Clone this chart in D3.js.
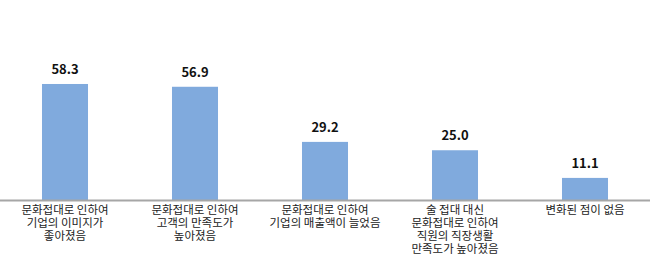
<!DOCTYPE html>
<html>
<head>
<meta charset="utf-8">
<script src="https://cdn.jsdelivr.net/npm/d3@7"></script>
<style>
  html, body { margin: 0; padding: 0; background: #fff; }
  svg { display: block; }
</style>
</head>
<body>
<div id="chart"></div>
<script>
const categories = [
  ['문화접대로 인하여', '기업의 이미지가', '좋아졌음'],
  ['문화접대로 인하여', '고객의 만족도가', '높아졌음'],
  ['문화접대로 인하여', '기업의 매출액이 늘었음'],
  ['술 접대 대신', '문화접대로 인하여', '직원의 직장생활', '만족도가 높아졌음'],
  ['변화된 점이 없음']
];
const values = [58.3, 56.9, 29.2, 25.0, 11.1];

const width = 652, height = 265;
const baseY = 200;

const svg = d3.select('#chart').append('svg')
  .attr('width', width).attr('height', height);

const x = d3.scaleBand()
  .domain(d3.range(values.length))
  .range([0, 650])
  .paddingInner(0.646)
  .paddingOuter(0.323);

const y = d3.scaleLinear().domain([0, 100]).range([baseY, 1]);

svg.append('g').selectAll('rect')
  .data(values)
  .join('rect')
  .attr('x', (d, i) => x(i))
  .attr('y', d => y(d))
  .attr('width', x.bandwidth())
  .attr('height', d => baseY - y(d))
  .attr('fill', '#80aadd');

svg.append('line')
  .attr('x1', 0).attr('x2', 650)
  .attr('y1', baseY + 0.5).attr('y2', baseY + 0.5)
  .attr('stroke', '#a6a6a6').attr('stroke-width', 2);

svg.append('g').selectAll('text')
  .data(values)
  .join('text')
  .attr('x', (d, i) => x(i) + x.bandwidth() / 2)
  .attr('y', d => y(d) - 10)
  .attr('text-anchor', 'middle')
  .style('font-family', '"Noto Sans CJK KR", "Noto Sans", sans-serif')
  .style('font-size', '13px')
  .style('font-weight', 'bold')
  .attr('fill', '#111')
  .text(d => d.toFixed(1));

const lab = svg.append('g').selectAll('text')
  .data(categories)
  .join('text')
  .attr('x', (d, i) => x(i) + x.bandwidth() / 2)
  .attr('y', 214)
  .attr('text-anchor', 'middle')
  .style('font-family', '"Noto Sans CJK KR", sans-serif')
  .style('font-size', '11.5px')
  .attr('fill', '#222');

lab.each(function(lines) {
  const t = d3.select(this);
  lines.forEach((ln, j) => {
    t.append('tspan')
      .attr('x', t.attr('x'))
      .attr('dy', j === 0 ? 0 : 13)
      .text(ln);
  });
});
</script>
</body>
</html>
